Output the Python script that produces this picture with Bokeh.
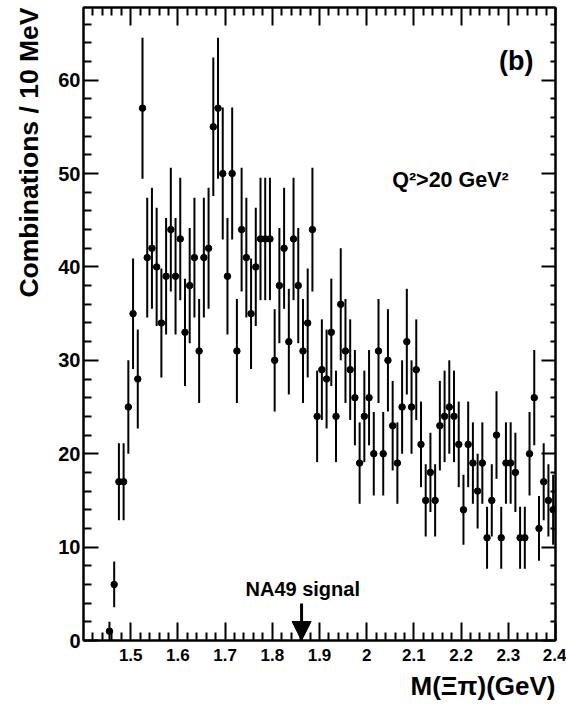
import numpy as np
from bokeh.plotting import figure
from bokeh.models import (Range1d, LinearAxis, FixedTicker, Label, Arrow,
                          NormalHead, ColumnDataSource, Title)
from bokeh.embed import file_html
from bokeh.resources import INLINE

# ---- data (combinations per 10 MeV bin) ----
counts = [1, 6, 17, 17, 25, 35, 28, 57, 41, 42,
          40, 34, 39, 44, 39, 43, 33, 38, 41, 31,
          41, 42, 55, 57, 50, 39, 50, 31, 44, 41,
          35, 40, 43, 43, 43, 30, 38, 42, 32, 43,
          38, 31, 34, 44, 24, 29, 28, 33, 24, 36,
          31, 29, 26, 19, 24, 26, 20, 31, 20, 30,
          23, 19, 25, 32, 25, 29, 21, 15, 18, 15,
          23, 24, 25, 24, 21, 14, 21, 19, 16, 19,
          11, 15, 22, 11, 19, 19, 18, 11, 11, 20,
          26, 12, 17, 15, 14]
first_bin_center = 1.455   # GeV
bin_width = 0.01           # GeV (10 MeV bins)

x_major = [1.5, 1.6, 1.7, 1.8, 1.9, 2.0, 2.1, 2.2, 2.3, 2.4]
x_labels = ["1.5", "1.6", "1.7", "1.8", "1.9", "2", "2.1", "2.2", "2.3", "2.4"]
y_major = [0, 10, 20, 30, 40, 50, 60]
y_labels = ["0", "10", "20", "30", "40", "50", "60"]
na49_mass = 1.862          # GeV, NA49 signal position

x_min, x_max = 1.40, 2.40
y_min, y_max = 0.0, 67.78

mass = np.round(first_bin_center + bin_width * np.arange(len(counts)), 4)
cnt = np.array(counts, dtype=float)
err = np.sqrt(cnt)
src = ColumnDataSource(dict(x=mass, y=cnt, lo=cnt - err, hi=cnt + err))

x_minor = [round(v, 3) for v in np.arange(1.42, 2.40, 0.02)
           if min(abs(v - m) for m in x_major) > 1e-6]
y_minor = [v for v in range(2, 68, 2) if v % 10 != 0]

FONT = "Liberation Sans"

p = figure(width=566, height=709,
           x_range=Range1d(x_min, x_max), y_range=Range1d(y_min, y_max),
           output_backend="svg", toolbar_location=None,
           x_axis_location=None, y_axis_location=None,
           min_border_left=83, min_border_right=11,
           min_border_top=7, min_border_bottom=69)
for g in p.grid:
    g.visible = False
p.background_fill_color = "white"
p.border_fill_color = "white"
p.outline_line_color = "black"
p.outline_line_width = 2


def make_axis(ticks, minor, labels, tick_in, minor_in, font_size, standoff, show):
    ax = LinearAxis(ticker=FixedTicker(ticks=ticks, minor_ticks=minor))
    ax.axis_line_color = "black"
    ax.axis_line_width = 2
    ax.major_tick_in = tick_in
    ax.major_tick_out = 0
    ax.minor_tick_in = minor_in
    ax.minor_tick_out = 0
    ax.major_tick_line_width = 2
    ax.minor_tick_line_width = 2
    ax.major_tick_line_color = "black"
    ax.minor_tick_line_color = "black"
    if show:
        ax.major_label_overrides = {t: l for t, l in zip(ticks, labels)}
        ax.major_label_text_font = FONT
        ax.major_label_text_font_style = "bold"
        ax.major_label_text_font_size = font_size
        ax.major_label_text_color = "black"
        ax.major_label_standoff = standoff
    else:
        ax.major_label_overrides = {t: "" for t in ticks}
        ax.major_label_text_font_size = "0px"
        ax.major_label_standoff = 0
    return ax


p.add_layout(make_axis(x_major, x_minor, x_labels, 18, 8, "17px", 8, True), "below")
p.add_layout(make_axis(x_major, x_minor, x_labels, 18, 8, "0px", 0, False), "above")
p.add_layout(make_axis(y_major, y_minor, y_labels, 15, 8, "20px", 3, True), "left")
p.add_layout(make_axis(y_major, y_minor, y_labels, 14, 5, "0px", 0, False), "right")

# axis titles (right-aligned, ROOT style)
p.add_layout(Title(text="M(\u039e\u03c0)(GeV)", align="right", text_font=FONT,
                   text_font_style="bold", text_font_size="26px",
                   text_color="black", standoff=10), "below")
p.add_layout(Title(text="Combinations / 10 MeV", align="right", text_font=FONT,
                   text_font_style="bold", text_font_size="26.5px",
                   text_color="black", standoff=23), "left")

# error bars and points
p.segment(x0="x", y0="lo", x1="x", y1="hi", source=src,
          line_color="black", line_width=2)
p.scatter(x="x", y="y", source=src, size=6.5, color="black")

# NA49 arrow
p.add_layout(Arrow(end=NormalHead(size=19, fill_color="black", line_color="black"),
                   x_start=na49_mass, y_start=3.96, x_end=na49_mass, y_end=0.0,
                   line_color="black", line_width=3))


def lab(x, y, text, size, align="left", angle=0.0):
    p.add_layout(Label(x=x, y=y, text=text, text_font=FONT, text_font_style="bold",
                       text_font_size=size, text_color="black", text_align=align,
                       text_baseline="alphabetic", angle=angle))


lab(1.7432, 5.54, "NA49 signal", "20px")
lab(2.054, 49.36, "Q\u00b2>20 GeV\u00b2", "21.5px")
lab(2.3534, 62.1, "(b)", "27px", align="right")

open("out.html", "w").write(file_html(p, INLINE))
